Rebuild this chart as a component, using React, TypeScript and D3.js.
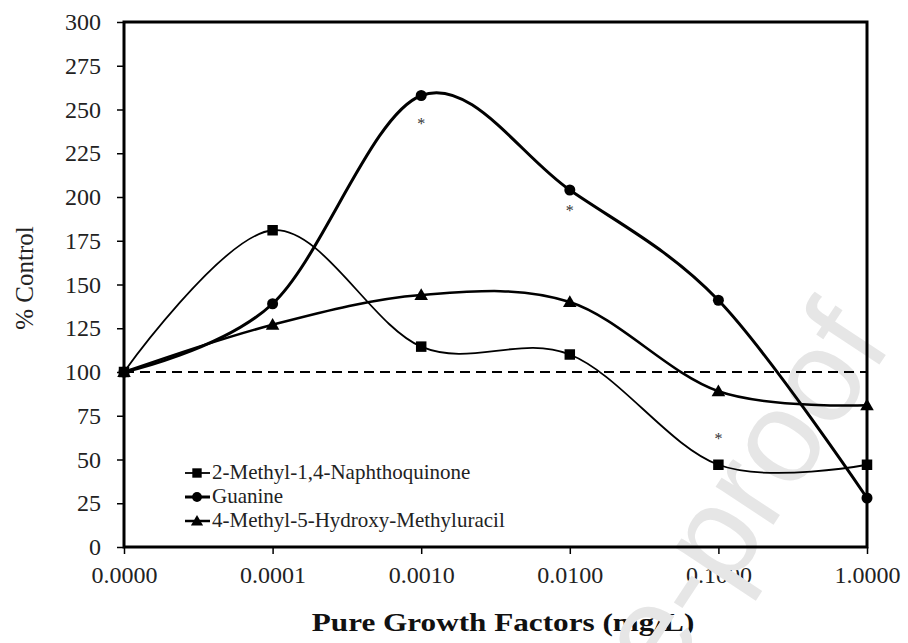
import React, { useEffect, useRef } from "react";
import * as d3 from "d3";

const categories = ["0.0000", "0.0001", "0.0010", "0.0100", "0.1000", "1.0000"];
const naphthoquinone = [100, 181, 114.5, 110, 47, 47];
const guanine = [100, 139, 258, 204, 141, 28];
const uracil = [100, 127, 144, 140, 89, 81];
const yTicks = [0, 25, 50, 75, 100, 125, 150, 175, 200, 225, 250, 275, 300];
const seriesNames = ["2-Methyl-1,4-Naphthoquinone", "Guanine", "4-Methyl-5-Hydroxy-Methyluracil"];
const significance = [
  { cat: "0.0010", value: 243 },
  { cat: "0.0100", value: 193 },
  { cat: "0.1000", value: 63 },
];

const W = 908;
const H = 643;
const M = { left: 124, right: 867, top: 22, bottom: 547 };
const FONT = "'Liberation Serif', 'Times New Roman', serif";

export default function App() {
  const ref = useRef<SVGSVGElement>(null);
  useEffect(() => {
    document.body.style.margin = "0";
    const svg = d3.select(ref.current);
    svg.selectAll("*").remove();

    const x = d3.scalePoint<string>().domain(categories).range([M.left, M.right]);
    const y = d3.scaleLinear().domain([0, 300]).range([M.bottom, M.top]);

    svg.append("rect").attr("width", W).attr("height", H).attr("fill", "#fff");

    const yAxis = d3.axisLeft(y).tickValues(yTicks).tickSize(7).tickPadding(16).tickFormat(d3.format("d"));
    const gy = svg.append("g").attr("transform", `translate(${M.left},0)`).call(yAxis);
    gy.select(".domain").remove();
    gy.selectAll("line").attr("stroke", "#000").attr("stroke-width", 1.5);
    gy.selectAll("text").attr("font-family", FONT).attr("font-size", 24).attr("fill", "#222");

    const xAxis = d3.axisBottom(x).tickSize(7).tickPadding(12);
    const gx = svg.append("g").attr("transform", `translate(0,${M.bottom})`).call(xAxis);
    gx.select(".domain").remove();
    gx.selectAll("line").attr("stroke", "#000").attr("stroke-width", 1.5);
    gx.selectAll("text").attr("font-family", FONT).attr("font-size", 24).attr("fill", "#222");

    svg.append("text")
      .attr("transform", `translate(33,278) rotate(-90)`)
      .attr("text-anchor", "middle")
      .attr("font-family", FONT).attr("font-size", 25).attr("fill", "#222")
      .text("% Control");
    svg.append("text")
      .attr("transform", "translate(503,631) scale(1.2,1)")
      .attr("text-anchor", "middle")
      .attr("font-family", FONT).attr("font-size", 26).attr("font-weight", "bold").attr("fill", "#111")
      .text("Pure Growth Factors (mg/L)");

    // Watermark
    svg.append("text")
      .attr("transform", "translate(893,344) rotate(-56.5)")
      .attr("text-anchor", "end")
      .attr("font-family", "'Liberation Sans', Arial, sans-serif")
      .attr("font-size", 131)
      .attr("fill", "#e6e6e6")
      .text("Journal Pre-proof");

    svg.append("rect")
      .attr("x", M.left).attr("y", M.top)
      .attr("width", M.right - M.left).attr("height", M.bottom - M.top)
      .attr("fill", "none").attr("stroke", "#000").attr("stroke-width", 3);

    svg.append("line")
      .attr("x1", M.left).attr("x2", M.right)
      .attr("y1", y(100)).attr("y2", y(100))
      .attr("stroke", "#000").attr("stroke-width", 2).attr("stroke-dasharray", "10,6");

    const line = d3.line<number>()
      .x((_, i) => x(categories[i])!)
      .y((d) => y(d))
      .curve(d3.curveCardinal.tension(0));

    const series = [
      { data: naphthoquinone, width: 1.8, marker: "square" },
      { data: guanine, width: 3, marker: "circle" },
      { data: uracil, width: 2.5, marker: "triangle" },
    ];

    const symbolOf = (m: string) =>
      m === "square" ? d3.symbolSquare : m === "circle" ? d3.symbolCircle : d3.symbolTriangle;
    const sizeOf = (m: string) => (m === "square" ? 110 : m === "circle" ? 95 : 80);

    series.forEach((s) => {
      svg.append("path").attr("d", line(s.data)!).attr("fill", "none")
        .attr("stroke", "#000").attr("stroke-width", s.width);
      svg.selectAll(null).data(s.data).enter().append("path")
        .attr("d", d3.symbol().type(symbolOf(s.marker)).size(sizeOf(s.marker))()!)
        .attr("transform", (d, i) => `translate(${x(categories[i])},${y(d) + (s.marker === "triangle" ? 1 : 0)})`)
        .attr("fill", "#000");
    });

    svg.selectAll(null).data(significance).enter().append("text")
      .attr("x", (d) => x(d.cat)!).attr("y", (d) => y(d.value) + 7)
      .attr("text-anchor", "middle")
      .attr("font-family", FONT).attr("font-size", 16).attr("fill", "#333")
      .text("*");

    const legendY = [473, 497, 521];
    series.forEach((s, i) => {
      const g = svg.append("g").attr("transform", `translate(0,${legendY[i]})`);
      g.append("line").attr("x1", 185).attr("x2", 210).attr("y1", 0).attr("y2", 0)
        .attr("stroke", "#000").attr("stroke-width", s.width);
      g.append("path")
        .attr("d", d3.symbol().type(symbolOf(s.marker)).size(sizeOf(s.marker) * 0.8)()!)
        .attr("transform", `translate(197,${s.marker === "triangle" ? 1 : 0})`)
        .attr("fill", "#000");
      g.append("text").attr("x", 212).attr("y", 6)
        .attr("font-family", FONT).attr("font-size", 21).attr("fill", "#222")
        .text(seriesNames[i]);
    });
  }, []);

  return <svg ref={ref} width={W} height={H} style={{ display: "block" }} />;
}
